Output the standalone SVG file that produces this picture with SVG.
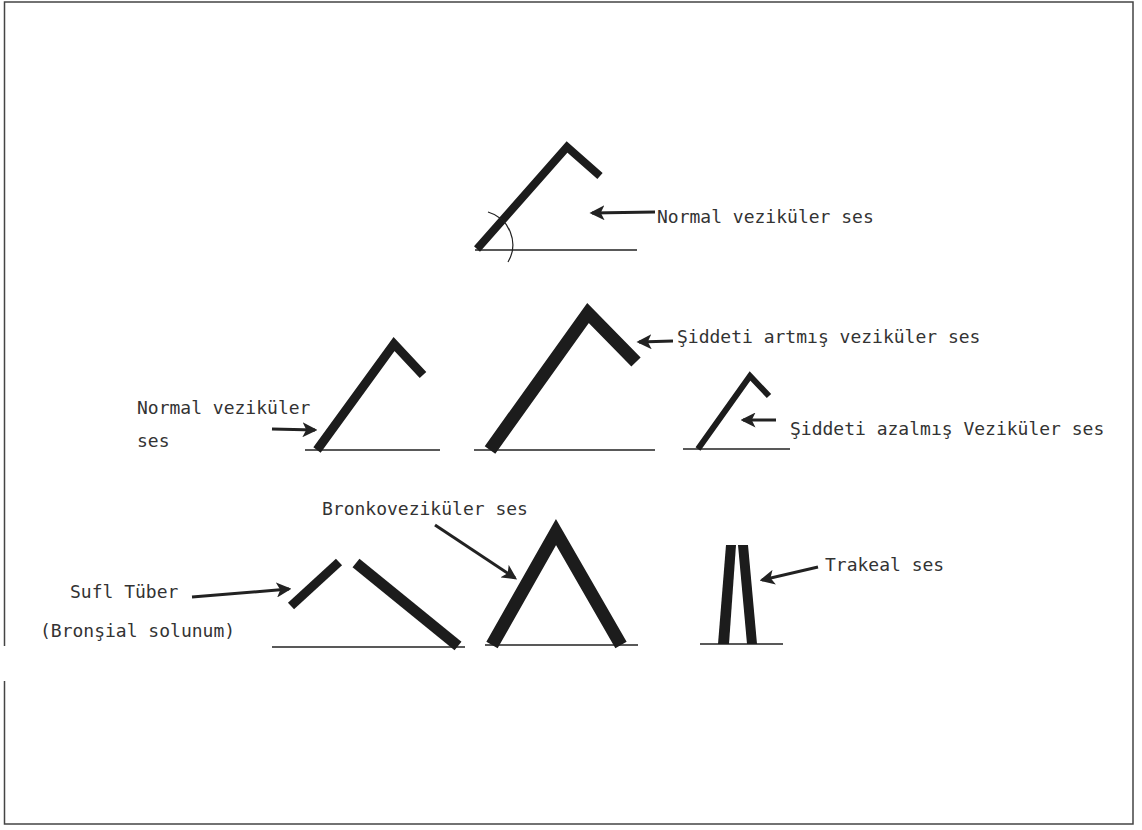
<svg xmlns="http://www.w3.org/2000/svg" width="1142" height="830" viewBox="0 0 1142 830">
<style>
  .frame { stroke: #444; stroke-width: 1.5; fill: none; }
  .base { stroke: #222; stroke-width: 1.5; fill: none; }
  .bar { fill: none; stroke: #1c1c1c; stroke-linejoin: miter; stroke-linecap: butt; }
  .conn { stroke: #222; stroke-width: 3; fill: none; marker-end: url(#ah); }
  text { font-family: "DejaVu Sans Mono", "Liberation Mono", monospace; font-size: 18px; fill: #333; }
</style>
<defs>
  <marker id="ah" viewBox="0 0 12 12" refX="10" refY="6" markerWidth="5" markerHeight="5" orient="auto" markerUnits="strokeWidth">
    <path d="M0,0 L12,6 L0,12 L3,6 z" fill="#222"/>
  </marker>
</defs>
<rect x="0" y="0" width="1142" height="830" fill="#fff"/>
<g id="frame">
  <path class="frame" d="M4.5,646 V2 H1133 V824 H4.5 V681"/>
</g>

<g id="node-normal-top">
  <line class="base" x1="475" y1="250" x2="637" y2="250"/>
  <polyline class="bar" stroke="#333" stroke-width="8" points="477,249 567,147 600,176"/>
  <path d="M488,212 A34,34 0 0 1 508,262" fill="none" stroke="#222" stroke-width="1.2"/>
  <text x="657" y="223">Normal veziküler ses</text>
</g>

<g id="node-normal-left">
  <line class="base" x1="305" y1="450" x2="440" y2="450"/>
  <polyline class="bar" stroke-width="9" points="317,450 394,344 423,375"/>
  <text x="137" y="414">Normal veziküler</text>
  <text x="137" y="447">ses</text>
</g>

<g id="node-artmis">
  <line class="base" x1="474" y1="450" x2="655" y2="450"/>
  <polyline class="bar" stroke-width="13" points="490,450 588,313 636,362"/>
  <text x="677" y="343">Şiddeti artmış veziküler ses</text>
</g>

<g id="node-azalmis">
  <line class="base" x1="683" y1="449" x2="790" y2="449"/>
  <polyline class="bar" stroke-width="6" points="698,449 750,376 769,396"/>
  <text x="790" y="435">Şiddeti azalmış Veziküler ses</text>
</g>

<g id="node-sufl">
  <line class="base" x1="272" y1="647" x2="465" y2="647"/>
  <line class="bar" stroke-width="9" x1="291" y1="606" x2="339" y2="562"/>
  <line class="bar" stroke="#3a3a3a" stroke-width="11" x1="356" y1="563" x2="458" y2="646"/>
  <text x="70" y="598">Sufl Tüber</text>
  <text x="40" y="637">(Bronşial solunum)</text>
</g>

<g id="node-bronko">
  <line class="base" x1="485" y1="645" x2="638" y2="645"/>
  <polyline class="bar" stroke-width="13" points="492,645 556,532 621,645"/>
  <text x="322" y="515">Bronkoveziküler ses</text>
</g>

<g id="node-trakeal">
  <line class="base" x1="700" y1="644" x2="783" y2="644"/>
  <polygon points="726,545 736,545 729,644 718,644" fill="#1c1c1c"/>
  <polygon points="738,545 748,545 757,644 747,644" fill="#1c1c1c"/>
  <text x="825" y="571">Trakeal ses</text>
</g>

<g id="connectors">
  <line class="conn" x1="655" y1="212" x2="592" y2="213"/>
  <line class="conn" x1="272" y1="429" x2="315" y2="430"/>
  <line class="conn" x1="673" y1="341" x2="639" y2="342"/>
  <line class="conn" x1="776" y1="420" x2="743" y2="420"/>
  <line class="conn" x1="192" y1="597" x2="289" y2="589"/>
  <line class="conn" x1="435" y1="525" x2="515" y2="578"/>
  <line class="conn" x1="818" y1="567" x2="762" y2="580"/>
</g>
</svg>
